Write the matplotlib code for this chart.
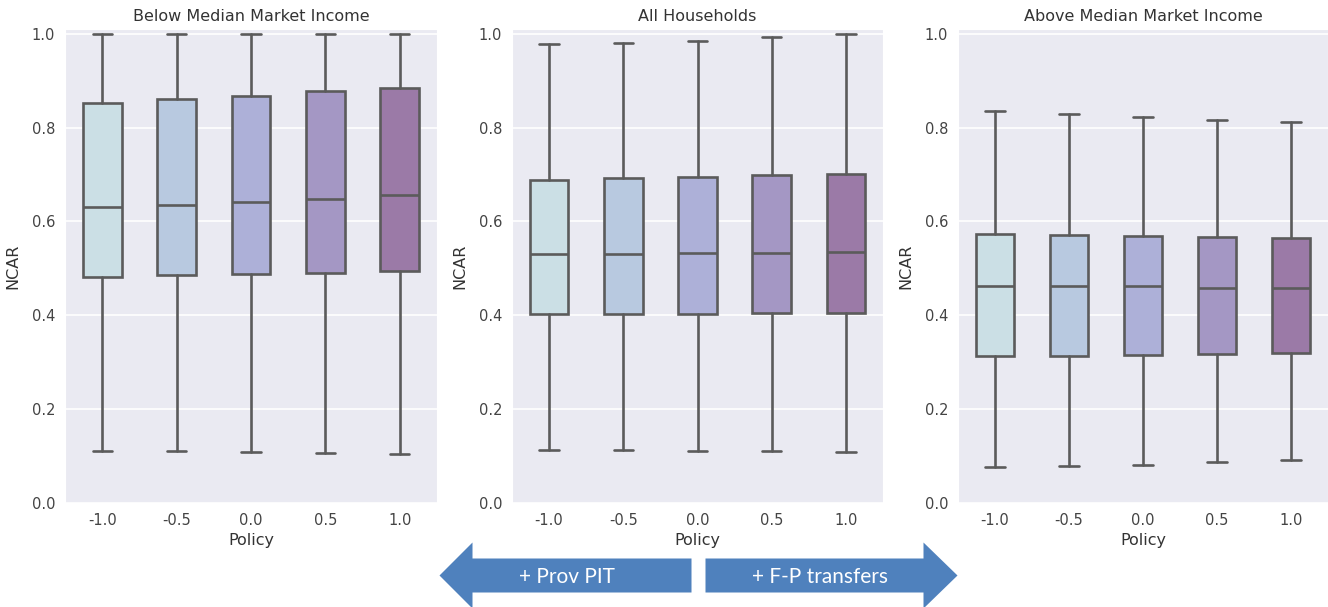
import matplotlib
matplotlib.use("Agg")
import matplotlib.pyplot as plt
from matplotlib.patches import Polygon
import seaborn as sns

sns.set_style("darkgrid")
plt.rcParams['font.family'] = ['DejaVu Sans']

policies = ["-1.0", "-0.5", "0.0", "0.5", "1.0"]
titles = ["Below Median Market Income", "All Households", "Above Median Market Income"]

# Box statistics per panel: lower whisker, Q1, median, Q3, upper whisker
below_whislo = [0.111, 0.111, 0.109, 0.107, 0.104]
below_q1     = [0.482, 0.485, 0.489, 0.491, 0.495]
below_med    = [0.631, 0.636, 0.642, 0.648, 0.657]
below_q3     = [0.852, 0.860, 0.868, 0.878, 0.885]
below_whishi = [0.999, 0.999, 0.999, 0.999, 0.999]

all_whislo = [0.113, 0.113, 0.111, 0.111, 0.109]
all_q1     = [0.402, 0.402, 0.403, 0.404, 0.404]
all_med    = [0.531, 0.531, 0.533, 0.533, 0.535]
all_q3     = [0.689, 0.692, 0.694, 0.698, 0.701]
all_whishi = [0.977, 0.981, 0.985, 0.994, 0.999]

above_whislo = [0.076, 0.079, 0.082, 0.087, 0.092]
above_q1     = [0.314, 0.314, 0.315, 0.318, 0.320]
above_med    = [0.462, 0.462, 0.462, 0.459, 0.459]
above_q3     = [0.574, 0.571, 0.569, 0.567, 0.564]
above_whishi = [0.835, 0.829, 0.822, 0.816, 0.811]

box_colors = ["#cbdfe5", "#b8c9e0", "#adb0d8", "#a497c4", "#9b7aa7"]

panels = [
    (below_whislo, below_q1, below_med, below_q3, below_whishi),
    (all_whislo, all_q1, all_med, all_q3, all_whishi),
    (above_whislo, above_q1, above_med, above_q3, above_whishi),
]

W, H = 1328, 607
fig = plt.figure(figsize=(W / 100, H / 100), dpi=100)

ax_px = [(65, 437), (512, 883), (958, 1328)]
top_px, bot_px = 29, 503
line_col = "#5b5b5b"

for (x0, x1), title, data in zip(ax_px, titles, panels):
    ax = fig.add_axes([x0 / W, (H - bot_px) / H, (x1 - x0) / W, (bot_px - top_px) / H])
    stats = []
    for i in range(len(policies)):
        stats.append(dict(whislo=data[0][i], q1=data[1][i], med=data[2][i],
                          q3=data[3][i], whishi=data[4][i], fliers=[]))
    bp = ax.bxp(stats, positions=range(len(policies)), widths=0.52,
                patch_artist=True, showfliers=False,
                boxprops=dict(edgecolor=line_col, linewidth=1.9),
                medianprops=dict(color=line_col, linewidth=1.9),
                whiskerprops=dict(color=line_col, linewidth=1.9),
                capprops=dict(color=line_col, linewidth=1.9))
    for patch, c in zip(bp['boxes'], box_colors):
        patch.set_facecolor(c)
    ax.set_xlim(-0.5, 4.5)
    ax.set_ylim(0, 1.01)
    ax.set_yticks([0.0, 0.2, 0.4, 0.6, 0.8, 1.0])
    ax.set_xticks(range(len(policies)))
    ax.set_xticklabels(policies)
    ax.grid(axis='x', visible=False)
    ax.grid(axis='y', color='white', linewidth=1.2)
    ax.tick_params(axis='both', labelsize=10.5, colors='#444444', length=0, pad=7)
    ax.set_title(title, fontsize=11.5, color='#333333', pad=6)
    ax.set_xlabel("Policy", fontsize=11.5, color='#333333', labelpad=4)
    ax.set_ylabel("NCAR", fontsize=11.5, color='#333333', labelpad=8)

arrow_col = "#4f81bd"

def fx(x):
    return x / W

def fy(y):
    return (H - y) / H

cy = 575.5
bt, bb = 558.5, 592.5
ht, hb = 542.5, 608.5

left_arrow = [(439.5, cy), (472.5, ht), (472.5, bt), (691.5, bt), (691.5, bb),
              (472.5, bb), (472.5, hb)]
right_arrow = [(957.5, cy), (923.5, ht), (923.5, bt), (705.5, bt), (705.5, bb),
               (923.5, bb), (923.5, hb)]
for pts in (left_arrow, right_arrow):
    fig.patches.append(Polygon([(fx(x), fy(y)) for x, y in pts], closed=True,
                               transform=fig.transFigure, facecolor=arrow_col,
                               edgecolor='none'))

fig.text(fx(567), fy(577), "+ Prov PIT", color='white', fontsize=15,
         family=['Lato', 'DejaVu Sans'], ha='center', va='center')
fig.text(fx(820), fy(577), "+ F-P transfers", color='white', fontsize=15,
         family=['Lato', 'DejaVu Sans'], ha='center', va='center')

fig.savefig("out.png", dpi=100, facecolor='white')
